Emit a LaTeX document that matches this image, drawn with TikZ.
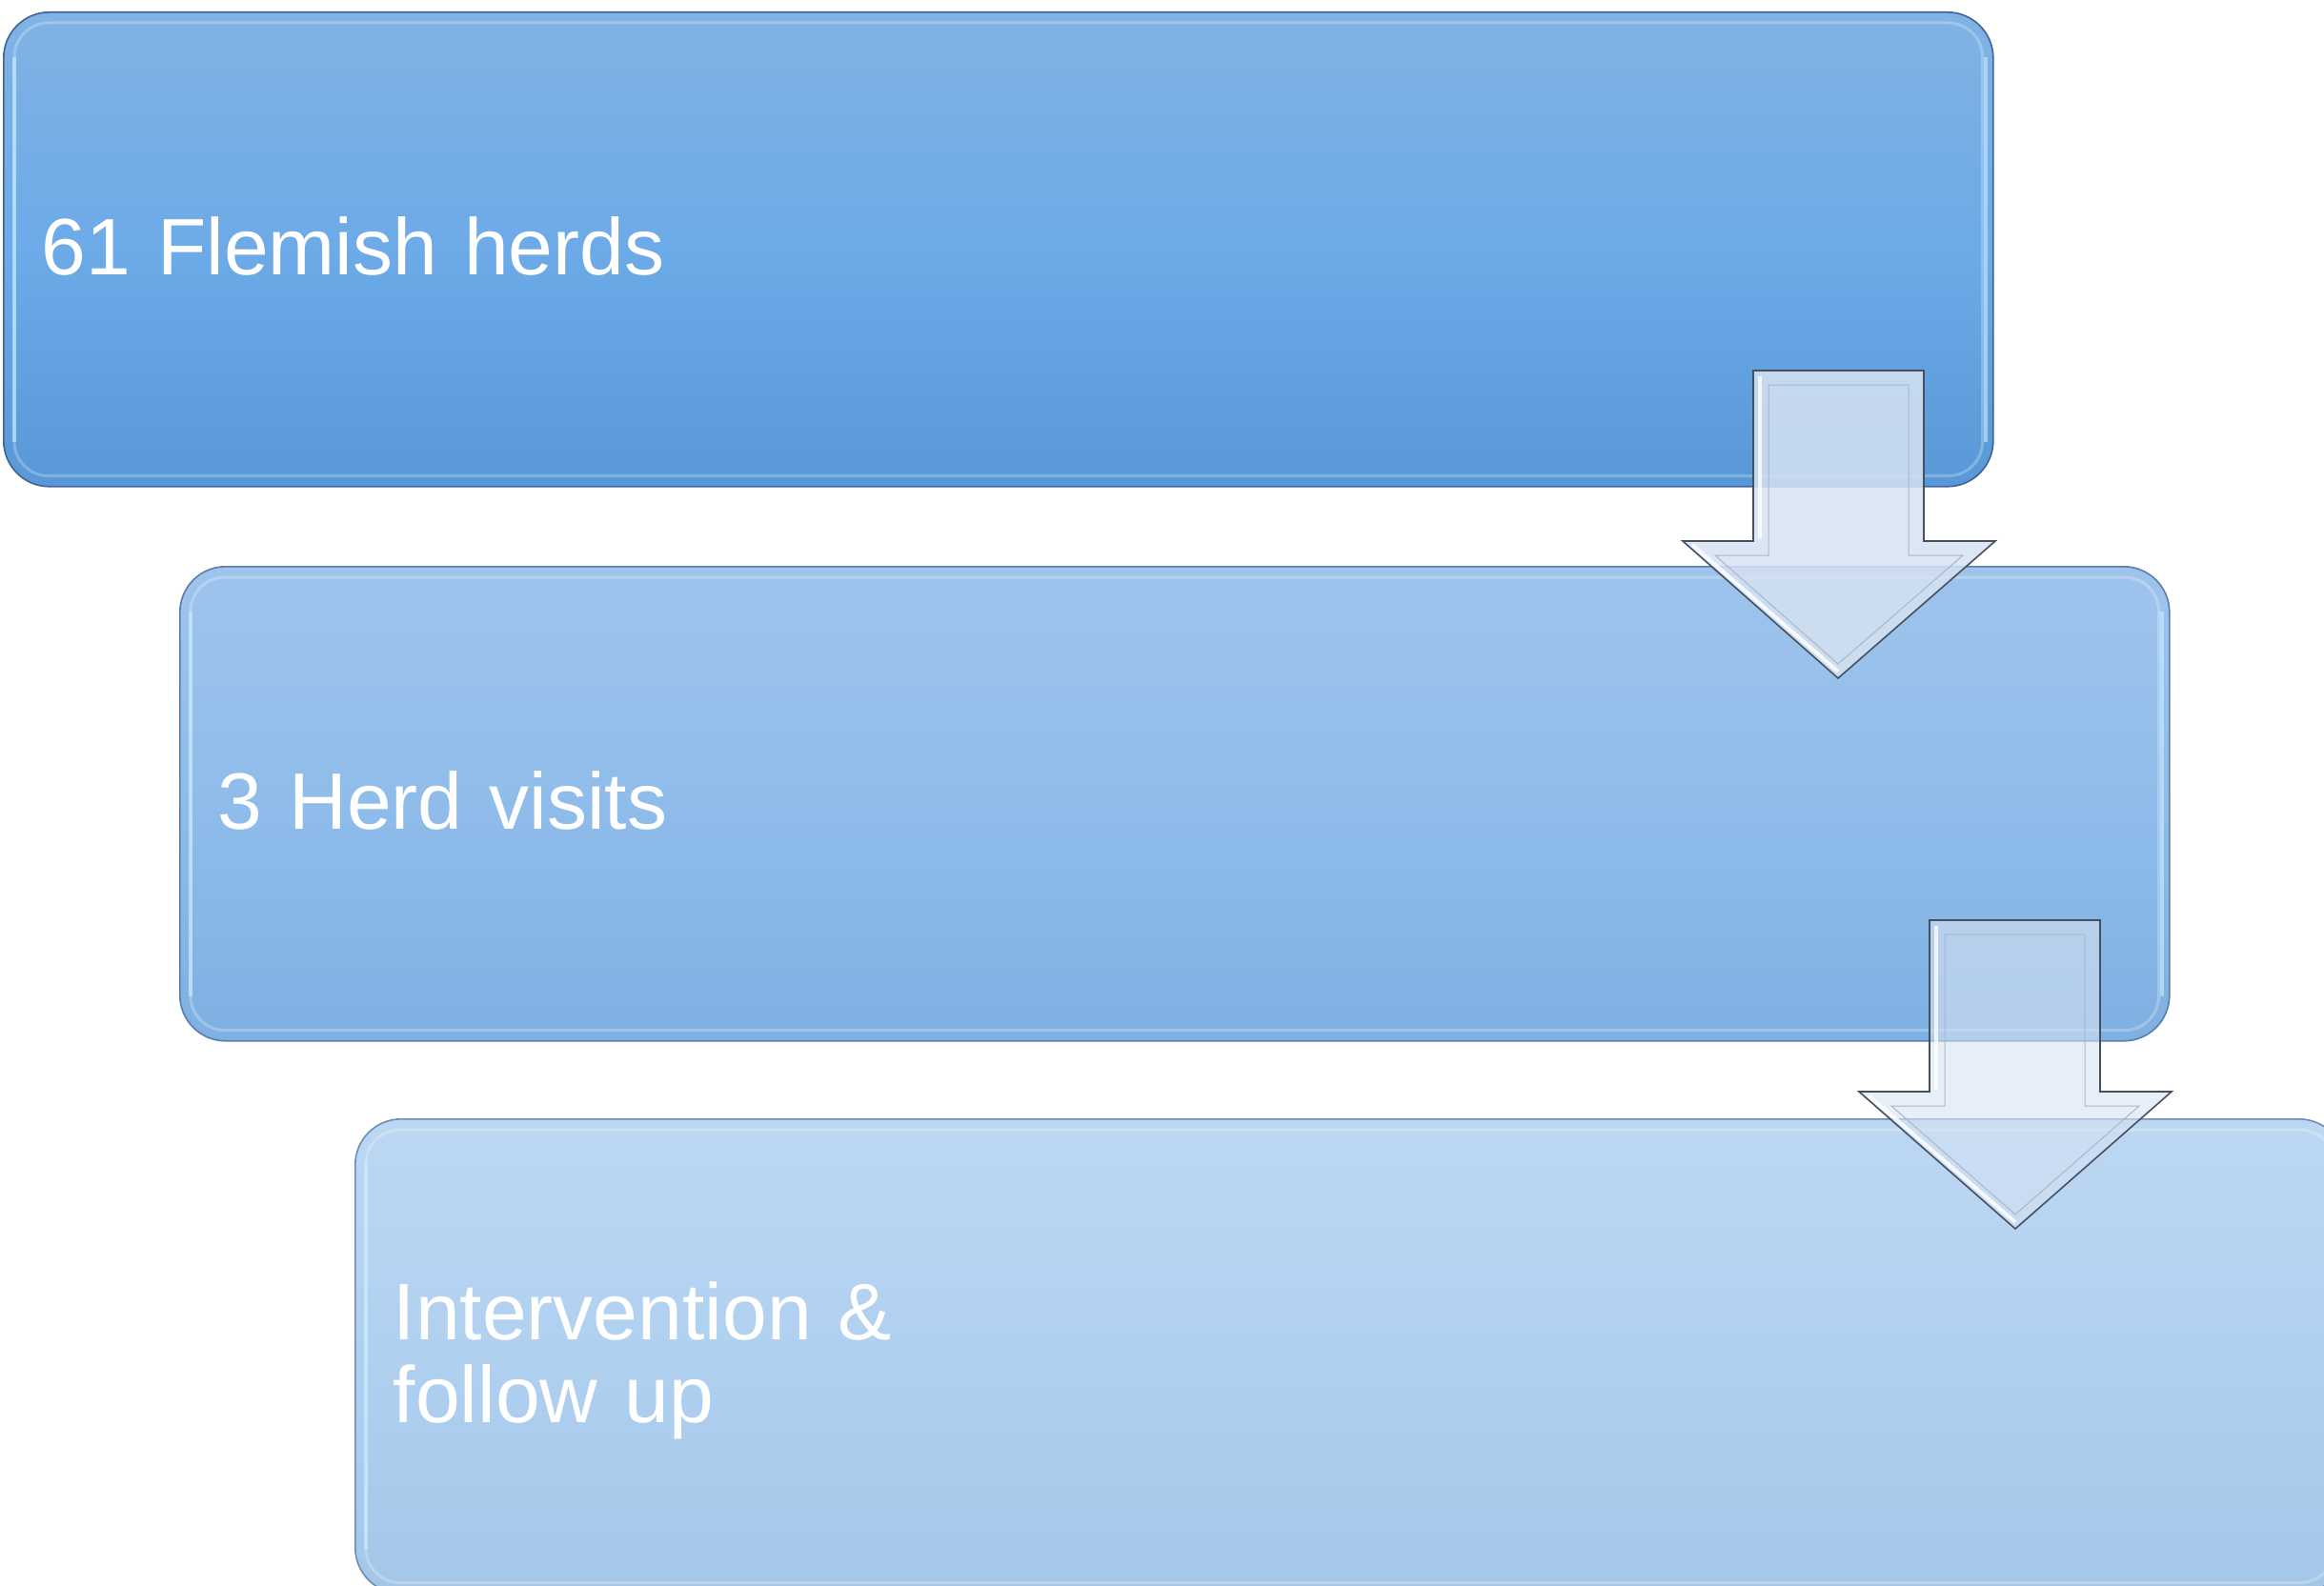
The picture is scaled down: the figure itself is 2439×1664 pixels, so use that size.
\documentclass[tikz,border=0pt]{standalone}
\usepackage{fontspec}
\setmainfont{Liberation Sans}
\definecolor{bAtop}{RGB}{130,178,228}
\definecolor{bAmid}{RGB}{108,170,232}
\definecolor{bAbot}{RGB}{88,152,214}
\definecolor{bBtop}{RGB}{158,196,236}
\definecolor{bBmid}{RGB}{143,188,234}
\definecolor{bBbot}{RGB}{127,176,226}
\definecolor{bCtop}{RGB}{188,215,242}
\definecolor{bCmid}{RGB}{176,208,240}
\definecolor{bCbot}{RGB}{164,198,232}
\definecolor{lineA}{RGB}{62,100,150}
\definecolor{lineB}{RGB}{90,125,170}
\definecolor{lineC}{RGB}{110,140,180}
\definecolor{arrowfill}{RGB}{214,226,242}
\definecolor{arrowline}{RGB}{70,80,95}
\definecolor{arrowbevel}{RGB}{170,182,200}
\definecolor{edgelight}{RGB}{200,240,255}
\begin{document}
\begin{tikzpicture}[x=0.5pt,y=-0.5pt,
  box/.style={rectangle, rounded corners=24pt, line width=0.8pt,
    minimum width=1044pt, minimum height=249pt, text width=1004pt,
    inner xsep=20pt, inner ysep=0pt, align=left, anchor=north west,
    font=\fontsize{42}{43.5}\selectfont, text=white, shading=axis},
  hilite/.style={draw=white, draw opacity=0.25, line width=1.5pt, rounded corners=18pt},
  sidelite/.style={draw=edgelight, draw opacity=0.6, line width=2pt},
  arrowface/.style={fill=arrowfill, draw=arrowline, line width=0.8pt, line join=miter},
  arrowinner/.style={draw=arrowbevel, line width=0.5pt, line join=miter},
  arrowlight/.style={draw=white, line width=2pt, draw opacity=0.8}
]
\clip (0,0) rectangle (2439,1664);
\useasboundingbox (0,0) rectangle (2439,1664);

\node[box, draw=lineA, top color=bAtop, bottom color=bAbot, middle color=bAmid]
  (b1) at (3,12) {61 Flemish herds\rule[-0.1em]{0pt}{0.1em}};
\draw[hilite] ([shift={(12,12)}]b1.north west) rectangle ([shift={(-12,-12)}]b1.south east);
\draw[sidelite] ([shift={(12,48)}]b1.north west) -- ([shift={(12,-48)}]b1.south west);
\draw[sidelite] ([shift={(-9,48)}]b1.north east) -- ([shift={(-9,-48)}]b1.south east);

\node[box, draw=lineB, top color=bBtop, bottom color=bBbot, middle color=bBmid]
  (b2) at (188,594) {3 Herd visits\rule[-0.1em]{0pt}{0.1em}};
\draw[hilite] ([shift={(12,12)}]b2.north west) rectangle ([shift={(-12,-12)}]b2.south east);
\draw[sidelite] ([shift={(12,48)}]b2.north west) -- ([shift={(12,-48)}]b2.south west);
\draw[sidelite] ([shift={(-9,48)}]b2.north east) -- ([shift={(-9,-48)}]b2.south east);

\node[box, draw=lineC, top color=bCtop, bottom color=bCbot, middle color=bCmid]
  (b3) at (372,1174) {\rule{0pt}{0.84em}Intervention \&\\follow up};
\draw[hilite] ([shift={(12,12)}]b3.north west) rectangle ([shift={(-12,-12)}]b3.south east);
\draw[sidelite] ([shift={(12,48)}]b3.north west) -- ([shift={(12,-48)}]b3.south west);

% arrow 1
\draw[arrowface, fill opacity=0.85]
  (1840,389) -- (2019,389) -- (2019,568) -- (2094,568) -- (1929,712) -- (1766,568) -- (1840,568) -- cycle;
\draw[arrowinner]
  (1856,404) -- (2003,404) -- (2003,583) -- (2060,583) -- (1929,697) -- (1800,583) -- (1856,583) -- cycle;
\draw[arrowlight] (1847,395) -- (1847,566);
\draw[arrowlight] (1776,572) -- (1929,705);

% arrow 2
\draw[arrowface, fill opacity=0.6]
  (2025,966) -- (2204,966) -- (2204,1146) -- (2279,1146) -- (2115,1290) -- (1951,1146) -- (2025,1146) -- cycle;
\draw[arrowinner]
  (2041,981) -- (2188,981) -- (2188,1161) -- (2245,1161) -- (2115,1275) -- (1985,1161) -- (2041,1161) -- cycle;
\draw[arrowlight] (2032,972) -- (2032,1144);
\draw[arrowlight] (1961,1150) -- (2115,1283);
\end{tikzpicture}
\end{document}
